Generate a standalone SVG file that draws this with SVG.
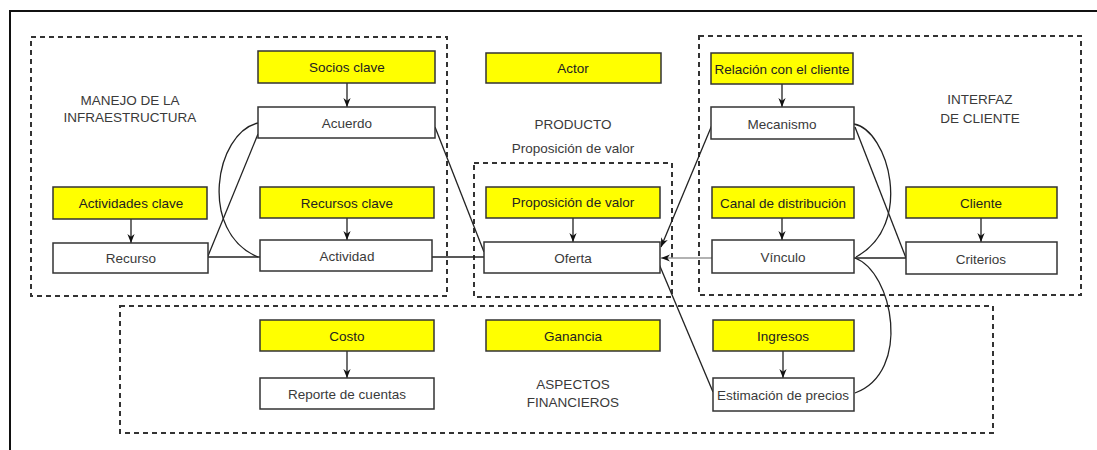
<svg xmlns="http://www.w3.org/2000/svg" width="1097" height="450" viewBox="0 0 1097 450">
<style>
text{font-family:"Liberation Sans",Arial,sans-serif;font-size:13.5px;fill:#3a3a3a;text-anchor:middle;dominant-baseline:central}
.y + text{fill:#222}
.y{fill:#ffff00;stroke:#333;stroke-width:1.5}
.w{fill:#fff;stroke:#333;stroke-width:1.5}
.grp{fill:none;stroke:#333;stroke-width:2;stroke-dasharray:5,4}
.c{fill:none;stroke:#222;stroke-width:1.3}
.g{fill:none;stroke:#999;stroke-width:1.3}
.a{marker-end:url(#ah)}
</style>
<defs>
<marker id="ah" viewBox="0 0 10 10" refX="10" refY="5" markerWidth="9" markerHeight="9" markerUnits="userSpaceOnUse" orient="auto">
<path d="M0,1 L10,5 L0,9 L3,5 Z" fill="#111"/>
</marker>
</defs>
<rect width="1097" height="450" fill="#fff"/>
<path d="M10,450 V11 H1097" fill="none" stroke="#111" stroke-width="2"/>

<g id="groups">
<rect class="grp" x="31" y="37" width="416" height="259"/>
<rect class="grp" x="474" y="163" width="198" height="134"/>
<rect class="grp" x="699" y="36" width="382" height="259"/>
<rect class="grp" x="120" y="306" width="873" height="127"/>
</g>

<g id="labels">
<text x="130" y="100">MANEJO DE LA</text>
<text x="130" y="117">INFRAESTRUCTURA</text>
<text x="573" y="124">PRODUCTO</text>
<text x="573" y="148">Proposición de valor</text>
<text x="980" y="99">INTERFAZ</text>
<text x="980" y="118">DE CLIENTE</text>
<text x="573" y="384">ASPECTOS</text>
<text x="573" y="402">FINANCIEROS</text>
</g>

<g id="connectors">
<line class="c a" x1="347" y1="83" x2="347" y2="107"/>
<line class="c a" x1="131" y1="219" x2="131" y2="243"/>
<line class="c a" x1="347" y1="218" x2="347" y2="240"/>
<line class="c a" x1="573" y1="218" x2="573" y2="242"/>
<line class="c a" x1="782" y1="84" x2="782" y2="107"/>
<line class="c a" x1="782" y1="218" x2="782" y2="240"/>
<line class="c a" x1="981" y1="218" x2="981" y2="242"/>
<line class="c a" x1="347" y1="351" x2="347" y2="378"/>
<line class="c a" x1="783" y1="351" x2="783" y2="378"/>
<line class="c" x1="208" y1="256" x2="258" y2="134"/>
<path class="c" d="M258,123 C215,133 198,232 258,257"/>
<line class="c" x1="208" y1="257" x2="260" y2="257"/>
<line class="c" x1="432" y1="257" x2="484" y2="257"/>
<line class="c" x1="435" y1="127" x2="484" y2="252"/>
<line class="c a" x1="712" y1="125" x2="661" y2="247"/>
<line class="g a" x1="712" y1="258" x2="661" y2="258"/>
<line class="c" x1="659" y1="264" x2="713" y2="392"/>
<line class="c" x1="855" y1="127" x2="906" y2="258"/>
<path class="c" d="M854,124 C888,130 915,225 856,257"/>
<line class="c" x1="854" y1="258" x2="906" y2="258"/>
<path class="c" d="M855,258 C893,272 912,372 855,393"/>
</g>

<g id="n-socios"><rect class="y" x="258" y="51" width="177" height="32"/><text x="347" y="67">Socios clave</text></g>
<g id="n-acuerdo"><rect class="w" x="258" y="107" width="177" height="31"/><text x="347" y="123">Acuerdo</text></g>
<g id="n-actividades"><rect class="y" x="53" y="187" width="154" height="32"/><text x="131" y="203">Actividades clave</text></g>
<g id="n-recurso"><rect class="w" x="53" y="243" width="155" height="30"/><text x="131" y="258">Recurso</text></g>
<g id="n-recursos"><rect class="y" x="260" y="187" width="174" height="31"/><text x="347" y="203">Recursos clave</text></g>
<g id="n-actividad"><rect class="w" x="260" y="240" width="172" height="31"/><text x="347" y="256">Actividad</text></g>
<g id="n-actor"><rect class="y" x="486" y="53" width="175" height="30"/><text x="573" y="68">Actor</text></g>
<g id="n-propuesta"><rect class="y" x="486" y="187" width="174" height="31"/><text x="573" y="202">Proposición de valor</text></g>
<g id="n-oferta"><rect class="w" x="484" y="242" width="176" height="31"/><text x="573" y="258">Oferta</text></g>
<g id="n-relacion"><rect class="y" x="711" y="53" width="142" height="31"/><text x="782" y="69">Relación con el cliente</text></g>
<g id="n-mecanismo"><rect class="w" x="711" y="107" width="143" height="32"/><text x="782" y="124">Mecanismo</text></g>
<g id="n-canal"><rect class="y" x="712" y="187" width="142" height="31"/><text x="783" y="203">Canal de distribución</text></g>
<g id="n-vinculo"><rect class="w" x="712" y="240" width="142" height="33"/><text x="783" y="257">Vínculo</text></g>
<g id="n-cliente"><rect class="y" x="906" y="187" width="151" height="31"/><text x="981" y="203">Cliente</text></g>
<g id="n-criterios"><rect class="w" x="906" y="242" width="151" height="32"/><text x="981" y="259">Criterios</text></g>
<g id="n-costo"><rect class="y" x="260" y="320" width="174" height="31"/><text x="347" y="336">Costo</text></g>
<g id="n-reporte"><rect class="w" x="260" y="378" width="174" height="31"/><text x="347" y="394">Reporte de cuentas</text></g>
<g id="n-ganancia"><rect class="y" x="486" y="320" width="174" height="31"/><text x="573" y="336">Ganancia</text></g>
<g id="n-ingresos"><rect class="y" x="713" y="320" width="141" height="31"/><text x="783" y="336">Ingresos</text></g>
<g id="n-estimacion"><rect class="w" x="713" y="378" width="141" height="33"/><text x="783" y="395">Estimación de precios</text></g>
</svg>
